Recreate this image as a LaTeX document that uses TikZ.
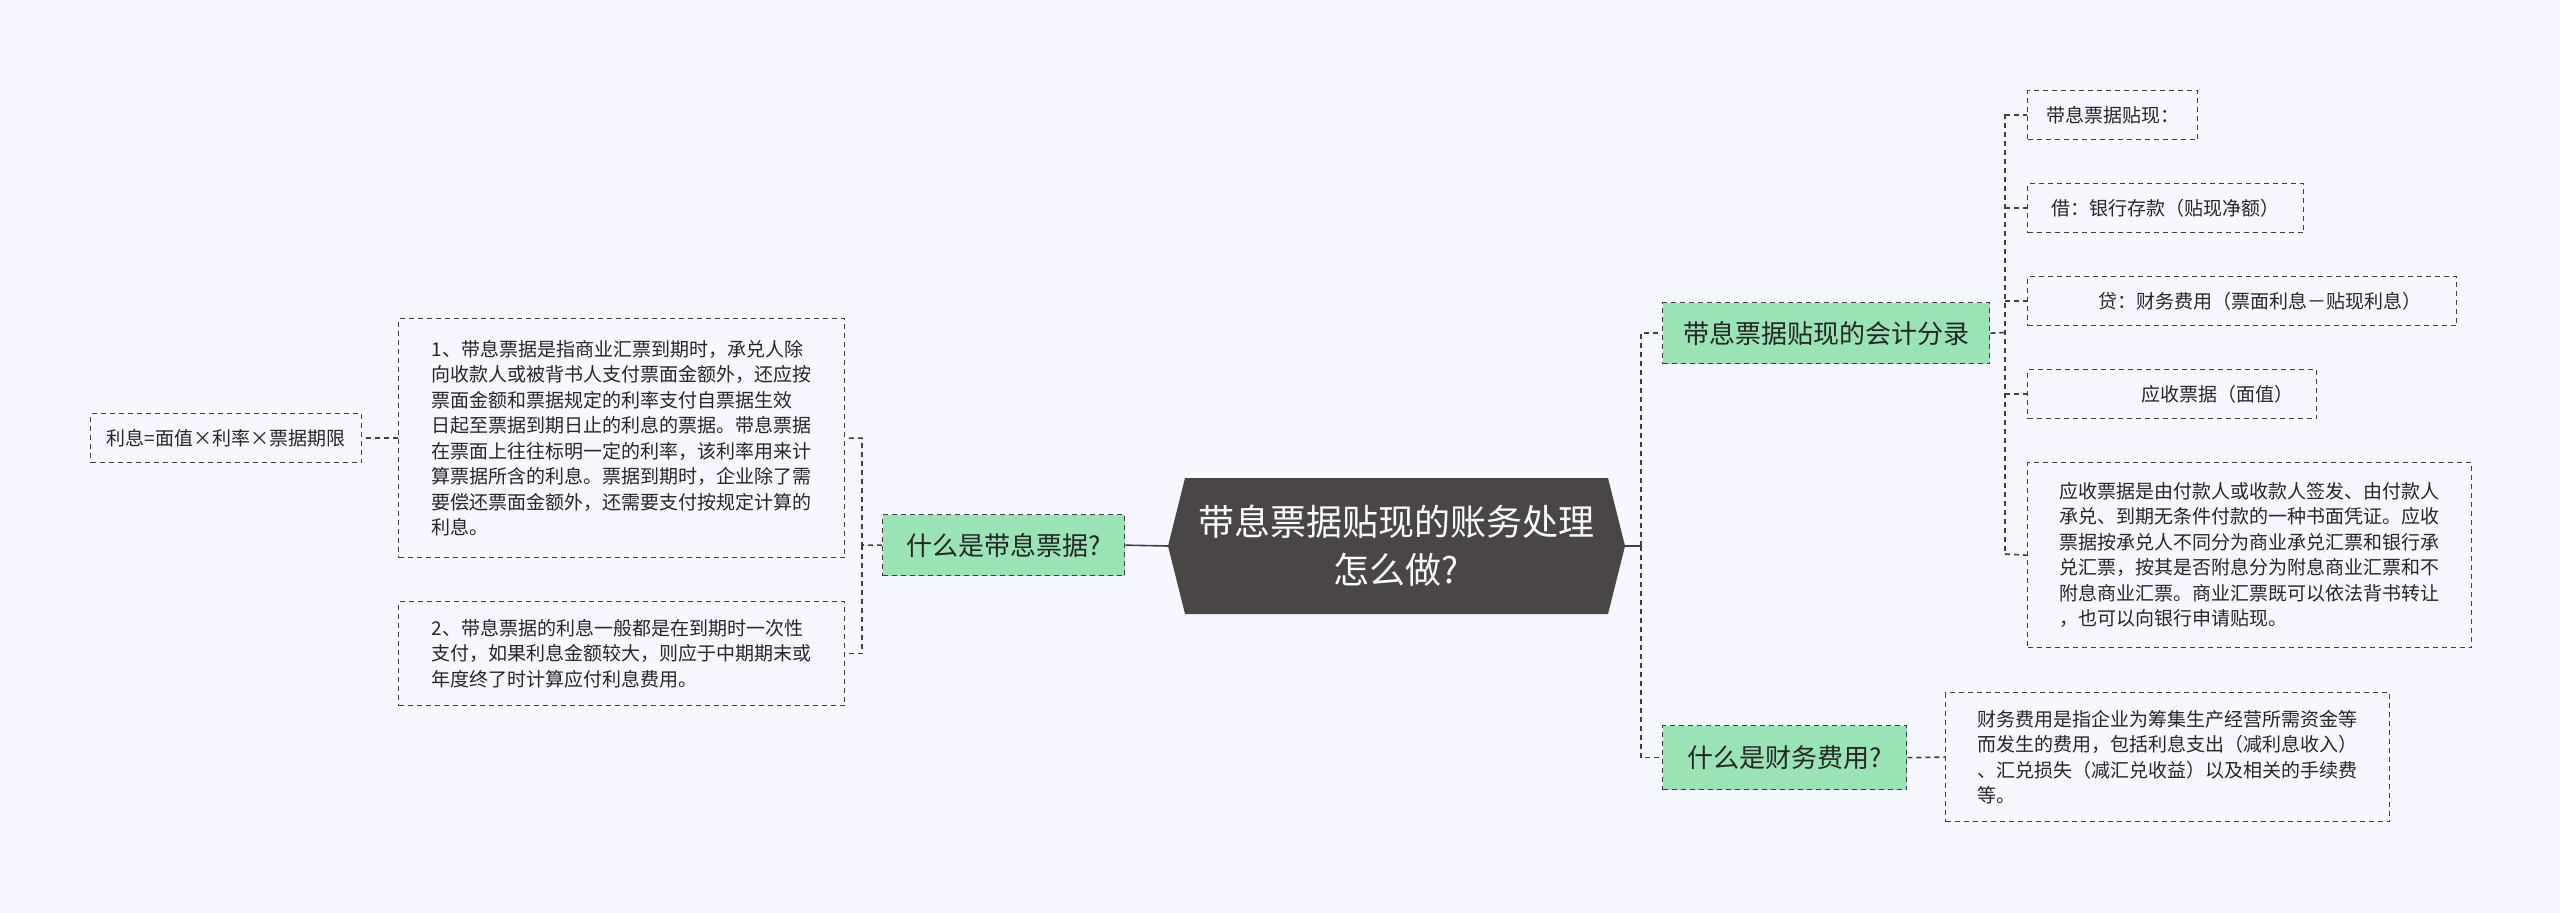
\documentclass[tikz,border=0pt]{standalone}
\usepackage{fontspec}
\setmainfont{Noto Sans CJK SC}
\begin{document}
\begin{tikzpicture}[x=1pt,y=-1pt,
 leaf/.style={draw=black!75,dashed,dash pattern=on 5pt off 4pt,line width=1.3pt,anchor=north west,inner xsep=6pt,inner ysep=0pt,align=left,font=\fontsize{19}{25.5}\selectfont,text=black!85},
 grn/.style={draw=black!75,dash pattern=on 5pt off 4pt,line width=1.3pt,fill=green!45!teal!40!white,anchor=north west,inner sep=0pt,font=\fontsize{26}{30}\selectfont,text=black!85},
 con/.style={draw=black!75,dash pattern=on 5pt off 4pt,line width=1.6pt}]
\fill[white!97!blue] (0,0) rectangle (2560,913);
\useasboundingbox (0,0) rectangle (2560,913);
% center hexagon
\fill[fill={rgb,255:red,74;green,69;blue,70}] (1168,546)--(1185,478)--(1608,478)--(1625,546)--(1608,614)--(1185,614)--cycle;
\node[text=white,align=center,font=\fontsize{36}{48}\selectfont] (c) at (1396,546) {带息票据贴现的账务处理\\怎么做?};
\coordinate (cl) at (1168,546);
\coordinate (cr) at (1625,546);
% left
\node[grn,minimum width=242,minimum height=61] (g1) at (882,514) {什么是带息票据?};
\node[leaf,minimum width=446,minimum height=239] (b1) at (398,318) {1、带息票据是指商业汇票到期时，承兑人除\\向收款人或被背书人支付票面金额外，还应按\\票面金额和票据规定的利率支付自票据生效\\日起至票据到期日止的利息的票据。带息票据\\在票面上往往标明一定的利率，该利率用来计\\算票据所含的利息。票据到期时，企业除了需\\要偿还票面金额外，还需要支付按规定计算的\\利息。};
\node[leaf,minimum width=446,minimum height=104] (b2) at (398,601) {2、带息票据的利息一般都是在到期时一次性\\支付，如果利息金额较大，则应于中期期末或\\年度终了时计算应付利息费用。};
\node[leaf,minimum width=271,minimum height=49] (b3) at (90,413) {利息=面值×利率×票据期限};
\draw[con,dash pattern={}] (cl) -- (g1.east);
\draw[con] (g1.west) -- (862,545) |- (b1.east);
\draw[con] (862,545) |- (b2.east);
\draw[con] (b1.west) -- (b3.east);
% right
\node[grn,minimum width=327,minimum height=61] (g2) at (1662,302) {带息票据贴现的会计分录};
\node[grn,minimum width=244,minimum height=64] (g3) at (1662,725) {什么是财务费用?};
\draw[con,dash pattern={}] (cr) -- (1641,546);
\draw[con] (1641,546) |- (g2.west);
\draw[con] (1641,546) |- (g3.west);
\node[leaf,minimum width=170,minimum height=49] (r1) at (2027,90) {带息票据贴现：};
\node[leaf,minimum width=276,minimum height=49] (r2) at (2027,183) {借：银行存款（贴现净额）};
\node[leaf,minimum width=429,minimum height=49] (r3) at (2027,276) {\hspace{36pt}贷：财务费用（票面利息－贴现利息）};
\node[leaf,minimum width=289,minimum height=49] (r4) at (2027,369) {\hspace{90pt}应收票据（面值）};
\node[leaf,minimum width=444,minimum height=185] (r5) at (2027,462) {应收票据是由付款人或收款人签发、由付款人\\承兑、到期无条件付款的一种书面凭证。应收\\票据按承兑人不同分为商业承兑汇票和银行承\\兑汇票，按其是否附息分为附息商业汇票和不\\附息商业汇票。商业汇票既可以依法背书转让\\，也可以向银行申请贴现。};
\node[leaf,minimum width=444,minimum height=129] (r6) at (1945,692) {财务费用是指企业为筹集生产经营所需资金等\\而发生的费用，包括利息支出（减利息收入）\\、汇兑损失（减汇兑收益）以及相关的手续费\\等。};
\draw[con] (g2.east) -- (2005,332.5);
\draw[con] (2005,114) -- (2005,554);
\foreach \n in {r1,r2,r3,r4} \draw[con] (2005,0 |- \n.west) -- (\n.west);
\draw[con] (2005,554) -- (r5.west);
\draw[con] (g3.east) -- (r6.west);
\end{tikzpicture}
\end{document}
